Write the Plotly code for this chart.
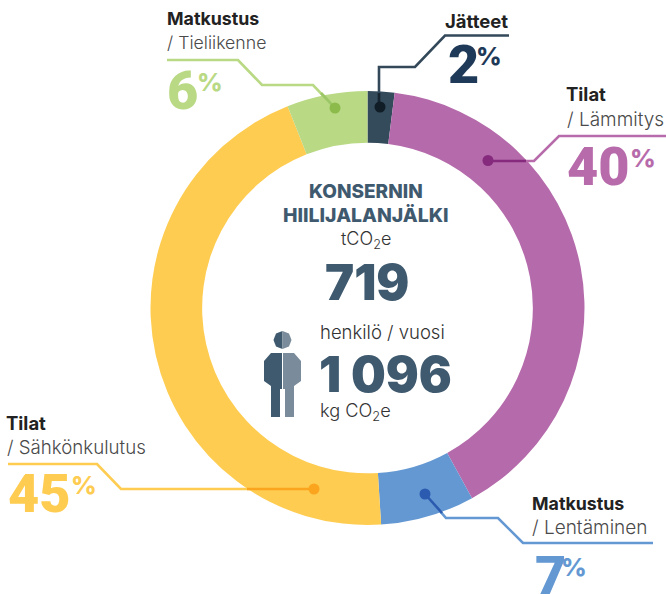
import plotly.graph_objects as go

categories = ["Jätteet", "Tilat / Lämmitys", "Matkustus / Lentäminen", "Tilat / Sähkönkulutus", "Matkustus / Tieliikenne"]
values = [2, 40, 7, 45, 6]
slice_colors = ["#344b5c", "#b56bab", "#6498d2", "#fecc50", "#b9d985"]
total_t = "719"
per_person = "1 096"

W, H = 666, 594
FONT = "Inter"
NUMFONT = "Roboto"
DARK = "#222222"
GREY = "#4a4a4a"
NAVY = "#3f5a6f"

fig = go.Figure()
fig.add_trace(go.Pie(
    labels=categories, values=values, hole=0.762, sort=False, direction="clockwise",
    rotation=0, textinfo="none", hoverinfo="label+percent",
    marker=dict(colors=slice_colors, line=dict(width=0)),
    domain=dict(x=[150.5 / W, 584.5 / W], y=[1 - 525 / H, 1 - 91 / H]),
    showlegend=False,
))

shapes = []

def leader(xs, ys, color, width=2.6):
    p = "M" + " L".join(f"{x} {y}" for x, y in zip(xs, ys))
    shapes.append(dict(type="path", path=p, line=dict(color=color, width=width), xref="x", yref="y", layer="above"))

def dot(x, y, color, r=5.5):
    shapes.append(dict(type="circle", x0=x - r, x1=x + r, y0=y - r, y1=y + r, fillcolor=color,
                       line_width=0, xref="x", yref="y", layer="above"))

leader([167, 238, 262, 313, 335], [60, 60, 85, 85, 108], "#b9d985")
leader([321, 335], [93, 108], "#9cc766")
dot(335, 108, "#8cbb4c")

leader([509, 445, 415, 379, 379], [35.5, 35.5, 67, 67, 107], "#33495a")
leader([379, 379], [93, 107], "#16242f")
dot(380, 107, "#101c26")

leader([666, 559, 534, 488], [136, 136, 161, 161], "#b76bab")
leader([526, 488], [161, 161], "#852a7c")
dot(488, 160.5, "#852a7c")

leader([8, 97, 121, 314], [464, 464, 489, 489], "#fecc50")
leader([247, 314], [489, 489], "#fba51f")
dot(314, 489, "#fba51f")

leader([653, 523, 498, 446, 425], [543, 543, 518, 518, 494], "#6498d2")
leader([442, 425], [513, 494], "#2a5bb0")
dot(425, 494, "#2a5bb0")

def txt(x, y, s, size, color, weight=400, anchor="left", family=FONT):
    fig.add_annotation(x=x, y=y, text=s, showarrow=False, xref="x", yref="y",
                       xanchor=anchor, yanchor="middle", align=anchor,
                       font=dict(family=family, size=size, color=color, weight=weight))

def pct(x, y, num, color, px):
    txt(x, y, num, 54, color, 900, family=NUMFONT)
    txt(px, y - 8, "%", 25, color, 800)

txt(165, 18, "Matkustus", 17.8, DARK, 700)
txt(165, 42, "/ Tieliikenne", 17.7, GREY, 300)
pct(165, 90, "6", "#b9d985", 195)

txt(510, 21, "Jätteet", 18.5, DARK, 700, "right")
pct(446, 64, "2", "#1f3a58", 474)

txt(564, 94, "Tilat", 18.5, DARK, 700)
txt(565, 119, "/ Lämmitys", 19, GREY, 300)
pct(565, 166, "40", "#b76bab", 628)

txt(4, 423, "Tilat", 18.5, DARK, 700)
txt(5, 447, "/ Sähkönkulutus", 18.7, GREY, 300)
pct(6, 493, "45", "#fecc50", 69)

txt(530, 503, "Matkustus", 17.8, DARK, 700)
txt(530, 527, "/ Lentäminen", 19, GREY, 300)
pct(533, 575, "7", "#6498d2", 559)

txt(366, 191, "KONSERNIN", 19, NAVY, 800, "center")
txt(366, 215, "HIILIJALANJÄLKI", 19.4, NAVY, 800, "center")
txt(366, 240, "tCO<sub>2</sub>e", 18, "#333333", 300, "center")
txt(367, 282, total_t, 49, NAVY, 900, "center")
txt(318, 332, "henkilö / vuosi", 18.5, "#333333", 300)
txt(385, 374, per_person, 49, NAVY, 900, "center")
txt(318, 411, "kg CO<sub>2</sub>e", 18.2, "#333333", 300)

icon = [
    ("M282.5 331 L276 333.5 L273.5 340 L276 346.5 L282.5 349 Z", "#3f5a6f"),
    ("M282.5 331 L289 333.5 L291.5 340 L289 346.5 L282.5 349 Z", "#7a8c9b"),
    ("M282 353 L271 353 L264 361 L264 381 L271 386 L271 417 L280 417 L280 389 L282 389 Z", "#3f5a6f"),
    ("M283 353 L294 353 L301 361 L301 381 L294 386 L294 417 L285 417 L285 389 L283 389 Z", "#7a8c9b"),
]
for p, c in icon:
    shapes.append(dict(type="path", path=p, fillcolor=c, line_width=0, xref="x", yref="y", layer="above"))

fig.update_layout(
    width=W, height=H, autosize=False, margin=dict(l=0, r=0, t=0, b=0),
    paper_bgcolor="white", plot_bgcolor="rgba(0,0,0,0)", showlegend=False, shapes=shapes,
    xaxis=dict(range=[0, W], visible=False, fixedrange=True),
    yaxis=dict(range=[H, 0], visible=False, fixedrange=True),
)
fig.write_html("out.html", config=dict(displayModeBar=False),
               post_script="document.body.style.margin='0';document.documentElement.style.overflow='hidden';")
